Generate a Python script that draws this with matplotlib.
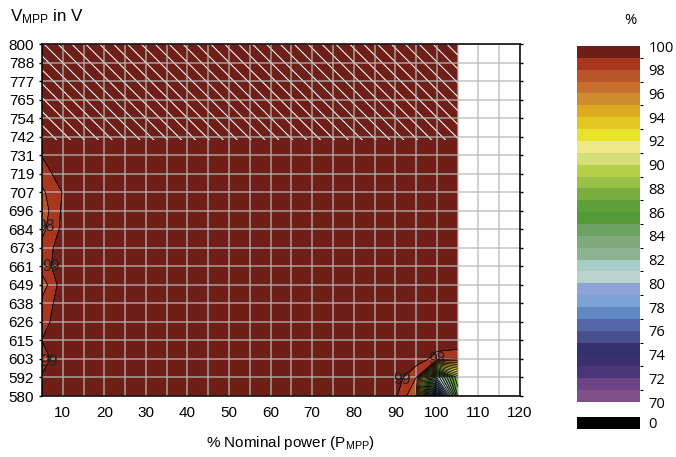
import numpy as np
import matplotlib
matplotlib.use("Agg")
import matplotlib.pyplot as plt
from matplotlib.colors import ListedColormap, BoundaryNorm
from matplotlib.cm import ScalarMappable

plt.rcParams["font.family"] = ["Liberation Sans", "DejaVu Sans"]
plt.rcParams["mathtext.default"] = "regular"
plt.rcParams["hatch.linewidth"] = 0.6

# measured grid: % nominal power (columns) x MPP voltage (rows)
power = [5, 10, 15, 20, 25, 30, 35, 40, 45, 50, 55, 60, 65, 70, 75, 80, 85, 90, 95, 100, 105]
voltage = np.linspace(580, 800, 20)
voltage_labels = ["580", "592", "603", "615", "626", "638", "649", "661", "673", "684",
                  "696", "707", "719", "731", "742", "754", "765", "777", "788", "800"]

eff_base = 99.6
# efficiency at 5 % and 10 % power, rows bottom (580 V) to top (800 V)
eff_col5 = [99.3, 99.1, 98.6, 99.02, 98.63, 98.3, 97.4, 98.5, 98.3, 97.7,
            97.4, 97.8, 98.45, 99.05, 99.6, 99.6, 99.6, 99.6, 99.6, 99.6]
eff_col10 = [99.6, 99.6, 99.6, 99.6, 99.6, 99.6, 99.6, 99.6, 99.6, 99.28,
             99.2, 99.05, 99.6, 99.6, 99.6, 99.6, 99.6, 99.6, 99.6, 99.6]
# corner 90..105 % power, 580..615 V
eff_corner = [[99.2, 97.0, 71.0, 86.0],
              [99.6, 98.0, 80.0, 88.0],
              [99.6, 99.6, 98.6, 98.0],
              [99.6, 99.6, 99.6, 99.9]]

hatch_v_min = 740  # hatched band (upper voltages)

band_colors = ["#80508A", "#6C4485", "#4A3679", "#3A306E", "#34306C", "#474F8E",
               "#5466A8", "#6088C4", "#7CA5D5", "#8FA3D6", "#B9D3CC", "#A8CCC6",
               "#8CB491", "#7FAA7E", "#6EA264", "#539938", "#5DA03A", "#78AD3F",
               "#9ABF45", "#B6D04A", "#D5DE7A", "#EEEA8A", "#E8E42C", "#E4C622",
               "#DDAA20", "#CF8B30", "#C66F2E", "#B9552A", "#A9371F", "#6F1F17"]
band_levels = list(range(70, 101))
label_levels = [98, 99]

eff = np.full((len(voltage), len(power)), eff_base)
eff[:, 0] = eff_col5
eff[:, 1] = eff_col10
eff[:4, 17:21] = eff_corner

DPI = 125
fig = plt.figure(figsize=(676 / DPI, 457 / DPI), dpi=DPI)
ax = fig.add_axes([42 / 676, 61 / 457, 478 / 676, 352 / 457])

X, Y = np.meshgrid(power, voltage)
cf = ax.contourf(X, Y, eff, levels=[0] + band_levels, colors=["black"] + band_colors)
ax.contour(X, Y, eff, levels=band_levels[:-3], colors="black", linewidths=0.45)
cs = ax.contour(X, Y, eff, levels=label_levels, colors="black", linewidths=0.45)
texts = ax.clabel(cs, fmt="%d", fontsize=9, colors="#222222", inline=False,
                  manual=[(5.8, 686), (6.5, 661), (6.0, 603), (92.0, 590), (100.0, 602.5)])
for t in texts:
    t.set_rotation(0)

ax.fill_between([power[0], power[-1]], hatch_v_min, 800, facecolor="none",
                edgecolor="white", hatch="\\\\\\", linewidth=0, zorder=1.2)

ax.set_xlim(5, 120)
ax.set_ylim(580, 800)
ax.set_xticks(range(10, 121, 10))
ax.set_xticks(range(15, 121, 10), minor=True)
ax.set_yticks(voltage)
ax.set_yticklabels(voltage_labels)
ax.grid(True, which="both", axis="x", color="#b8b8b8", alpha=0.8, linewidth=0.9)
ax.grid(True, which="major", axis="y", color="#b8b8b8", alpha=0.8, linewidth=0.9)
ax.tick_params(axis="x", which="both", length=0, pad=6, labelsize=8.8)
ax.tick_params(axis="y", which="both", left=True, right=True, direction="out",
               length=2, width=0.8, pad=2.5, labelsize=8.8)
for s in ax.spines.values():
    s.set_linewidth(0.9)

fig.text(10 / 676, 1 - 21 / 457, "V$_{MPP}$ in V", fontsize=9.8, va="baseline")
fig.text(290 / 676, 1 - 447 / 457, "% Nominal power (P$_{MPP}$)", fontsize=8.8,
         ha="center", va="baseline")

# colour scale
cax = fig.add_axes([577 / 676, 55 / 457, 63 / 676, 356 / 457])
cmap = ListedColormap(band_colors)
norm = BoundaryNorm(band_levels, cmap.N)
cb = fig.colorbar(ScalarMappable(norm=norm, cmap=cmap), cax=cax, ticks=range(70, 101, 2))
cb.outline.set_visible(False)
cax.tick_params(length=0, pad=5, labelsize=8.5)
for t in cax.get_yticklabels():
    t.set_family(["Open Sans", "DejaVu Sans"])

zax = fig.add_axes([577 / 676, 28 / 457, 63 / 676, 12 / 457])
zax.barh([0], [1], height=1, color="black")
zax.set_xlim(0, 1)
zax.set_ylim(-0.5, 0.5)
zax.set_xticks([])
zax.yaxis.tick_right()
zax.set_yticks([0])
zax.set_yticklabels(["0"])
zax.tick_params(length=0, pad=5, labelsize=8.5)
for t in zax.get_yticklabels():
    t.set_family(["Open Sans", "DejaVu Sans"])
for s in zax.spines.values():
    s.set_visible(False)

fig.text(630 / 676, 1 - 20 / 457, "%", fontsize=8.5, ha="center", va="center",
         family=["Open Sans", "DejaVu Sans"])

fig.savefig("out.png", dpi=DPI)
